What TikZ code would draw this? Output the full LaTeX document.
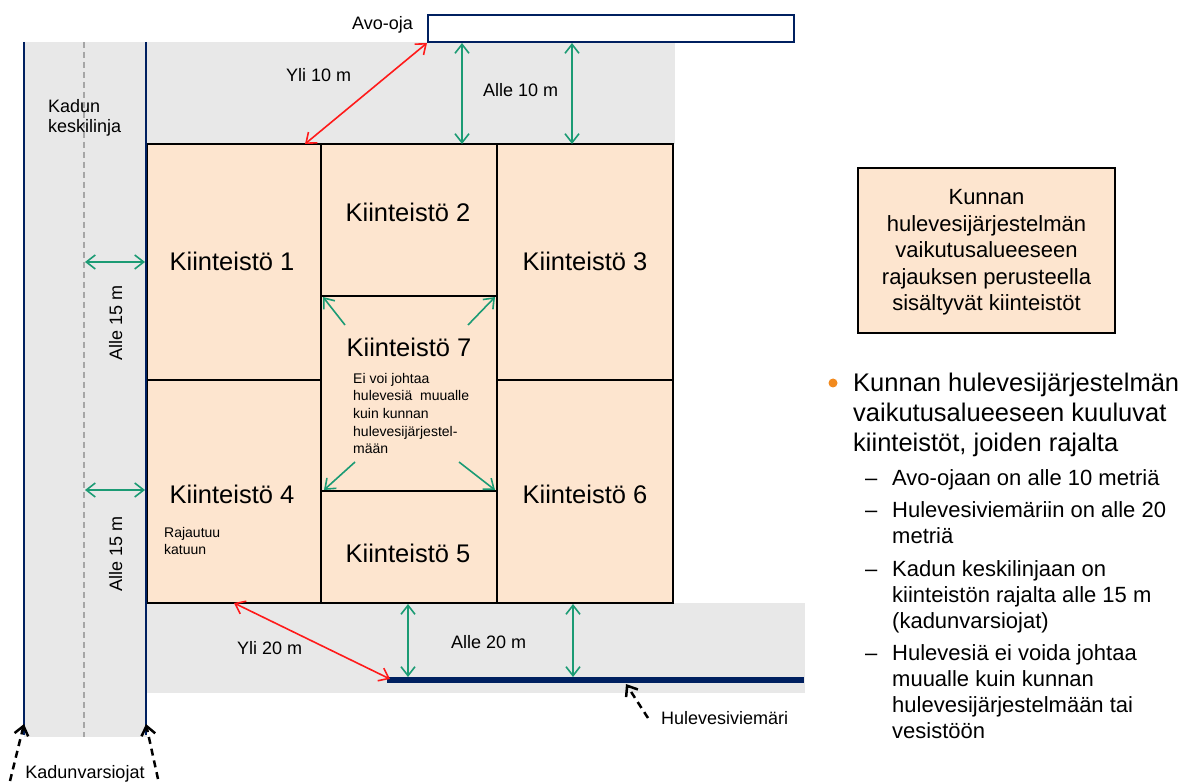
\documentclass[tikz,border=0pt]{standalone}
\usepackage{fontspec}
\setmainfont{Liberation Sans}
\usetikzlibrary{arrows.meta}
\definecolor{peach}{HTML}{FDE5CF}
\definecolor{roadgrey}{HTML}{E8E8E8}
\definecolor{navyblue}{HTML}{002060}
\definecolor{arrowgreen}{HTML}{1B9B74}
\definecolor{arrowred}{HTML}{FF1A1A}
\definecolor{bulletorange}{HTML}{F28A1E}
\definecolor{clinegrey}{HTML}{A6A6A6}
\begin{document}
\begin{tikzpicture}[x=1pt,y=-1pt,
  prop/.style={draw=black,line width=2.5pt,fill=peach},
  roadline/.style={draw=navyblue,line width=2pt},
  centreline/.style={draw=clinegrey,line width=1.5pt,dash pattern=on 6pt off 4pt},
  greenarrow/.style={draw=arrowgreen,line width=1.6pt,{Straight Barb[length=9pt,width=14pt]}-{Straight Barb[length=9pt,width=14pt]}},
  redarrow/.style={draw=arrowred,line width=1.6pt,{Straight Barb[length=9pt,width=14pt]}-{Straight Barb[length=9pt,width=14pt]}},
  cornerarrow/.style={draw=arrowgreen,line width=1.6pt,-{Straight Barb[length=9pt,width=14pt]}},
  pointer/.style={draw=black,line width=2.5pt,dash pattern=on 7pt off 5pt,-{Straight Barb[length=9pt,width=14pt]}},
  lbl/.style={inner sep=0pt,font=\fontsize{18}{21}\selectfont},
  big/.style={inner sep=0pt,anchor=base,font=\fontsize{25.5}{30}\selectfont},
  small/.style={inner sep=0pt,anchor=base west,font=\fontsize{14}{17.5}\selectfont},
  sub/.style={inner sep=0pt,anchor=base west,font=\fontsize{22}{26}\selectfont},
  mainitem/.style={inner sep=0pt,anchor=base west,font=\fontsize{25.5}{30}\selectfont},
]
\useasboundingbox (0,0) rectangle (1197,783);

% grey areas
\fill[roadgrey] (24,42) rectangle (147,737);
\fill[roadgrey] (147,42) rectangle (675,144);
\fill[roadgrey] (147,603) rectangle (805,693);

% centre line of street
\draw[centreline] (84,42) -- (84,737);

% properties
\draw[prop] (147,144) rectangle (321,380);
\draw[prop] (321,144) rectangle (497,296);
\draw[prop] (497,144) rectangle (673,380);
\draw[prop] (147,380) rectangle (321,603);
\draw[prop] (321,296) rectangle (497,491);
\draw[prop] (321,491) rectangle (497,603);
\draw[prop] (497,380) rectangle (673,603);

% street ditches
\coordinate (ditchAtop) at (24,42);
\coordinate (ditchAbot) at (24,735);
\coordinate (ditchBtop) at (146,42);
\coordinate (ditchBbot) at (146,735);
\draw[roadline] (ditchAtop) -- (ditchAbot);
\draw[roadline] (ditchBtop) -- (ditchBbot);

% open ditch
\node[draw=navyblue,line width=2pt,fill=white,minimum width=366pt,minimum height=27pt,inner sep=0pt] (avo) at (611,28.5) {};

% storm sewer
\coordinate (sewerW) at (387,680);
\coordinate (sewerE) at (804,680);
\draw[navyblue,line width=6pt] (sewerW) -- (sewerE);

% green distance arrows
\coordinate (g1a) at (462,43); \coordinate (g1b) at (462,144);
\coordinate (g2a) at (572,43); \coordinate (g2b) at (572,144);
\draw[greenarrow] (g1a) -- (g1b);
\draw[greenarrow] (g2a) -- (g2b);
\coordinate (g3a) at (85,262); \coordinate (g3b) at (145,262);
\coordinate (g4a) at (85,490); \coordinate (g4b) at (145,490);
\draw[greenarrow] (g3a) -- (g3b);
\draw[greenarrow] (g4a) -- (g4b);
\coordinate (g5a) at (408,604); \coordinate (g5b) at (408,677);
\coordinate (g6a) at (573,604); \coordinate (g6b) at (573,677);
\draw[greenarrow] (g5a) -- (g5b);
\draw[greenarrow] (g6a) -- (g6b);

% corner arrows in property 7
\coordinate (c1a) at (345,325); \coordinate (c1b) at (323,297);
\coordinate (c2a) at (468,325); \coordinate (c2b) at (495,297);
\coordinate (c3a) at (355,462); \coordinate (c3b) at (324,490);
\coordinate (c4a) at (459,462); \coordinate (c4b) at (495,490);
\draw[cornerarrow] (c1a) -- (c1b);
\draw[cornerarrow] (c2a) -- (c2b);
\draw[cornerarrow] (c3a) -- (c3b);
\draw[cornerarrow] (c4a) -- (c4b);

% red arrows
\coordinate (r1a) at (305,144);
\draw[redarrow] (r1a) -- (avo.south west);
\coordinate (r2a) at (234,603); \coordinate (r2b) at (390,679);
\draw[redarrow] (r2a) -- (r2b);

% labels
\node[lbl,anchor=base east] (avolbl) at (413,30) {Avo-oja};
\node[lbl,anchor=base west] (yli10) at (286,81.5) {Yli 10 m};
\node[lbl,anchor=base west] (alle10) at (483,97) {Alle 10 m};
\node[lbl,anchor=base west] (kadun1) at (48,113) {Kadun};
\node[lbl,anchor=base west] (kadun2) at (48,133) {keskilinja};
\node[lbl,anchor=base,rotate=90] (alle15a) at (122,323) {Alle 15 m};
\node[lbl,anchor=base,rotate=90] (alle15b) at (122,554) {Alle 15 m};
\node[lbl,anchor=base west] (yli20) at (237,654) {Yli 20 m};
\node[lbl,anchor=base west] (alle20) at (451,648) {Alle 20 m};
\node[lbl,anchor=base west] (hvlbl) at (661,724) {Hulevesiviemäri};
\node[lbl,anchor=base] (kvlbl) at (85,778) {Kadunvarsiojat};

% pointers
\coordinate (p1s) at (10,781); \coordinate (p1e) at (24,724);
\coordinate (p2s) at (158,779); \coordinate (p2e) at (146,724);
\coordinate (p3s) at (648,718); \coordinate (p3e) at (626,684);
\draw[pointer] (p1s) -- (p1e);
\draw[pointer] (p2s) -- (p2e);
\draw[pointer] (p3s) -- (p3e);

% property names
\node[big] (k1) at (232,271) {Kiinteistö 1};
\node[big] (k2) at (408,222) {Kiinteistö 2};
\node[big] (k3) at (585,271) {Kiinteistö 3};
\node[big] (k7) at (409,357) {Kiinteistö 7};
\node[big] (k4) at (232,503) {Kiinteistö 4};
\node[big] (k5) at (408,562) {Kiinteistö 5};
\node[big] (k6) at (585,503) {Kiinteistö 6};

\node[small] (s4a) at (164,537) {Rajautuu};
\node[small] (s4b) at (164,554) {katuun};
\node[small] (s7a) at (353,383.5) {Ei voi johtaa};
\node[small] (s7b) at (353,401) {hulevesiä\ \ muualle};
\node[small] (s7c) at (353,418.5) {kuin kunnan};
\node[small] (s7d) at (353,436) {hulevesijärjestel-};
\node[small] (s7e) at (353,453.5) {mään};

% legend box
\node[draw=black,line width=2pt,fill=peach,minimum width=257pt,minimum height=165pt,inner sep=0pt] (legend) at (986.5,250.5) {};
\node[inner sep=0pt,align=center,font=\fontsize{22}{26.4}\selectfont] (legendtext) at ([yshift=-2pt]legend.center) {Kunnan\\hulevesijärjestelmän\\vaikutusalueeseen\\rajauksen perusteella\\sisältyvät kiinteistöt};

% bullet list
\fill[bulletorange] (833,383) circle (4.5pt);
\node[mainitem] (m1) at (853,392) {Kunnan hulevesijärjestelmän};
\node[mainitem] (m2) at (853,422) {vaikutusalueeseen kuuluvat};
\node[mainitem] (m3) at (853,452) {kiinteistöt, joiden rajalta};

\node[sub] (d1) at (865,485) {–};
\node[sub] (t1) at (892,485) {Avo-ojaan on alle 10 metriä};
\node[sub] (d2) at (865,517) {–};
\node[sub] (t2a) at (892,517) {Hulevesiviemäriin on alle 20};
\node[sub] (t2b) at (892,543) {metriä};
\node[sub] (d3) at (865,576) {–};
\node[sub] (t3a) at (892,576) {Kadun keskilinjaan on};
\node[sub] (t3b) at (892,602) {kiinteistön rajalta alle 15 m};
\node[sub] (t3c) at (892,628) {(kadunvarsiojat)};
\node[sub] (d4) at (865,660) {–};
\node[sub] (t4a) at (892,660) {Hulevesiä ei voida johtaa};
\node[sub] (t4b) at (892,686) {muualle kuin kunnan};
\node[sub] (t4c) at (892,712) {hulevesijärjestelmään tai};
\node[sub] (t4d) at (892,738) {vesistöön};
\end{tikzpicture}
\end{document}
